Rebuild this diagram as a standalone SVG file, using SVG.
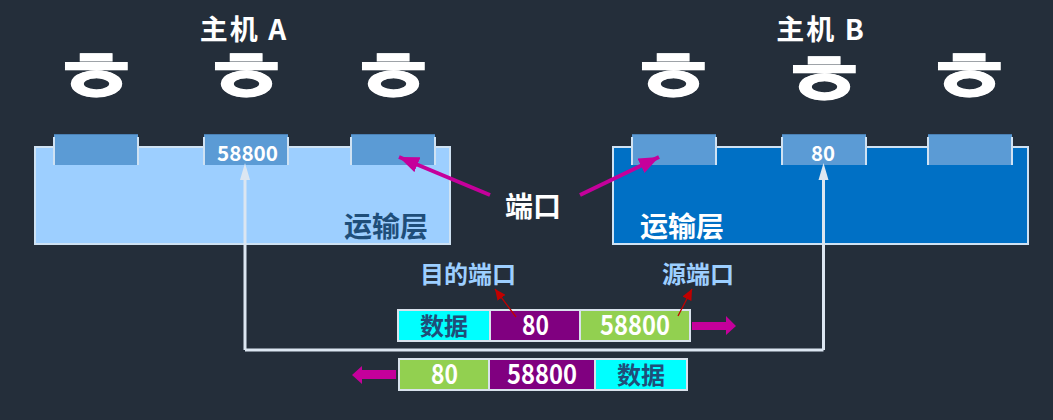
<svg xmlns="http://www.w3.org/2000/svg" width="1053" height="420" viewBox="0 0 1053 420">
<style>
text{font-family:"Noto Sans CJK SC","Noto Sans",sans-serif;font-weight:700;text-anchor:middle}
.w{fill:#fff}.d{fill:#1f4e79}.lb{fill:#9dcfff}
.layer{stroke:#cfe2f3;stroke-width:2}
.port{fill:#5b9bd5}
.edge{stroke:#cfe2f3;stroke-width:2;fill:none}
.top{stroke:#4a80b4;stroke-width:1;fill:none}
.h{font-family:"DejaVu Sans",sans-serif;font-size:72px;fill:#fff;stroke:#fff;stroke-width:.7}
.seg{stroke:#d9e2ec;stroke-width:2}
.mg{stroke:#c5009b;stroke-width:4;fill:none}
.rd{stroke:#c00000;stroke-width:1.3;fill:none}
</style>
<defs>
<marker id="mm" markerUnits="userSpaceOnUse" markerWidth="22" markerHeight="16" refX="20" refY="8" orient="auto"><path d="M0 0L20 8L0 16z" fill="#c5009b"/></marker>
<marker id="mr" markerUnits="userSpaceOnUse" markerWidth="12" markerHeight="10" refX="11" refY="5" orient="auto"><path d="M0 0L11 5L0 10z" fill="#c00000"/></marker>
</defs>
<rect width="1053" height="420" fill="#242e3a"/>
<g id="hostA">
<text x="244" y="40" font-size="28" letter-spacing="2" class="w">主机 A</text>
<text class="h" transform="translate(96.500 104.400) scale(1.62 1.07)">&#x11C2;</text><text class="h" transform="translate(246.500 104.400) scale(1.62 1.07)">&#x11C2;</text><text class="h" transform="translate(393 104.400) scale(1.62 1.07)">&#x11C2;</text>
</g>
<g id="hostB">
<text x="821" y="40" font-size="28" letter-spacing="2" class="w">主机 B</text>
<text class="h" transform="translate(673 104.400) scale(1.62 1.07)">&#x11C2;</text><text class="h" transform="translate(824 107.400) scale(1.62 1.07)">&#x11C2;</text><text class="h" transform="translate(969 104.400) scale(1.62 1.07)">&#x11C2;</text>
</g>
<g id="layerA">
<rect x="35" y="147" width="415" height="97" fill="#9dcfff" class="layer"/>
<text x="386" y="237" font-size="28" class="d">运输层</text>
</g>
<g id="layerB">
<rect x="613" y="147" width="415" height="97" fill="#0070c5" class="layer"/>
<text x="682" y="237" font-size="28" class="w">运输层</text>
</g>
<g id="portsA">
<rect class="port" x="54" y="134" width="84" height="31"/><path class="edge" d="M54 137V165M138 137V165"/><path class="top" d="M54 134.500H138"/>
<rect class="port" x="204" y="134" width="84" height="31"/><path class="edge" d="M204 137V165M288 137V165"/><path class="top" d="M204 134.500H288"/>
<text x="247.500" y="161" font-size="21" font-weight="500" textLength="61" lengthAdjust="spacingAndGlyphs" class="w">58800</text>
<rect class="port" x="351" y="134" width="84" height="31"/><path class="edge" d="M351 137V165M435 137V165"/><path class="top" d="M351 134.500H435"/>
</g>
<g id="portsB">
<rect class="port" x="632" y="134" width="84" height="31"/><path class="edge" d="M632 137V165M716 137V165"/><path class="top" d="M632 134.500H716"/>
<rect class="port" x="782" y="134" width="84" height="31"/><path class="edge" d="M782 137V165M866 137V165"/><path class="top" d="M782 134.500H866"/>
<text x="823" y="161" font-size="21" font-weight="500" textLength="24" lengthAdjust="spacingAndGlyphs" class="w">80</text>
<rect class="port" x="928" y="134" width="84" height="31"/><path class="edge" d="M928 137V165M1012 137V165"/><path class="top" d="M928 134.500H1012"/>
</g>
<g id="labels">
<text x="533" y="217" font-size="28" class="w">端口</text>
<text x="468" y="283" font-size="24" class="lb">目的端口</text>
<text x="698" y="283" font-size="24" class="lb">源端口</text>
</g>
<g id="packet1">
<rect class="seg" x="398" y="310" width="92" height="31" fill="#00ffff"/>
<rect class="seg" x="490" y="310" width="90" height="31" fill="#800080"/>
<rect class="seg" x="580" y="310" width="110" height="31" fill="#92d050"/>
<text x="444" y="335" font-size="24" class="d">数据</text>
<text x="535.500" y="335" font-size="27" font-weight="500" textLength="27" lengthAdjust="spacingAndGlyphs" class="w">80</text>
<text x="635" y="335" font-size="27" font-weight="500" textLength="70" lengthAdjust="spacingAndGlyphs" class="w">58800</text>
</g>
<g id="packet2">
<rect class="seg" x="399" y="359" width="90" height="31" fill="#92d050"/>
<rect class="seg" x="489" y="359" width="106" height="31" fill="#800080"/>
<rect class="seg" x="595" y="359" width="92" height="31" fill="#00ffff"/>
<text x="444.500" y="384" font-size="27" font-weight="500" textLength="27" lengthAdjust="spacingAndGlyphs" class="w">80</text>
<text x="542" y="384" font-size="27" font-weight="500" textLength="70" lengthAdjust="spacingAndGlyphs" class="w">58800</text>
<text x="641" y="384" font-size="24" class="d">数据</text>
</g>
<g id="connectors">
<path d="M245 350V170M245 350H823.500M823.500 350V170" fill="none" stroke="#dce6f1" stroke-width="3"/>
<path d="M240 180L245 163L250 180zM818.500 180L823.500 163L828.500 180z" fill="#dce6f1"/>
<path class="mg" d="M490 195L399 157" marker-end="url(#mm)"/>
<path class="mg" d="M580 195L659 157" marker-end="url(#mm)"/>
<path class="rd" d="M516 317L495 289" marker-end="url(#mr)"/>
<path class="rd" d="M678 316L692 289" marker-end="url(#mr)"/>
<path d="M692 322H726V316L736 326L726 335V330H692z" fill="#c5009b"/>
<path d="M396 370H362V366L352 375L362 384V379H396z" fill="#c5009b"/>
</g>
</svg>
